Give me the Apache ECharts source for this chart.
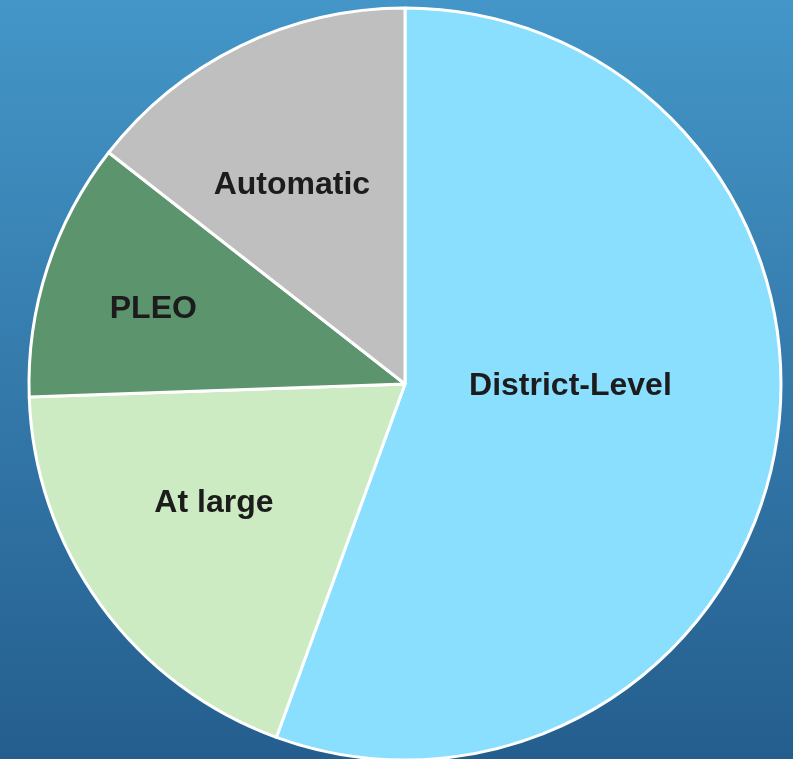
<!DOCTYPE html>
<html>
<head>
<meta charset="utf-8">
<script src="https://cdn.jsdelivr.net/npm/echarts@6/dist/echarts.min.js"></script>
<style>
html,body{margin:0;padding:0;}
#c{width:793px;height:759px;}
</style>
</head>
<body>
<div id="c"></div>
<script>
var categories = ['District-Level', 'At large', 'PLEO', 'Automatic'];
var values = [50, 17, 10, 13];
var colors = ['#8ADFFE', '#CDEBC3', '#5C946E', '#BFBFBF'];
// label placement (style): angle clockwise from top (deg), fraction of radius
var labelAngles = [90, 238.5, 287, 330.6];
var labelDist = [0.44, 0.596, 0.70, 0.613];

var chart = echarts.init(document.getElementById('c'));
var cx = 405, cy = 384, R = 376;
chart.setOption({
  animation: false,
  backgroundColor: {
    type: 'linear', x: 0, y: 0, x2: 0, y2: 1,
    colorStops: [{offset: 0, color: '#4496C8'}, {offset: 1, color: '#245E8E'}]
  },
  series: [{
    type: 'pie',
    center: [cx, cy],
    radius: [0, R],
    startAngle: 90,
    clockwise: true,
    data: categories.map(function (c, i) {
      return {name: c, value: values[i], itemStyle: {color: colors[i]}};
    }),
    itemStyle: {borderColor: '#ffffff', borderWidth: 3},
    label: {
      show: true,
      position: 'inside',
      formatter: '{b}',
      color: '#1c1c1c',
      fontFamily: 'Liberation Sans, Arial, sans-serif',
      fontWeight: 'bold',
      fontSize: 32
    },
    labelLine: {show: false},
    labelLayout: function (p) {
      var i = p.dataIndex;
      var a = labelAngles[i] * Math.PI / 180;
      var d = labelDist[i] * R;
      return {x: cx + d * Math.sin(a), y: cy + 2 - d * Math.cos(a), align: 'center', verticalAlign: 'middle'};
    },
    emphasis: {disabled: true}
  }]
});
</script>
</body>
</html>
